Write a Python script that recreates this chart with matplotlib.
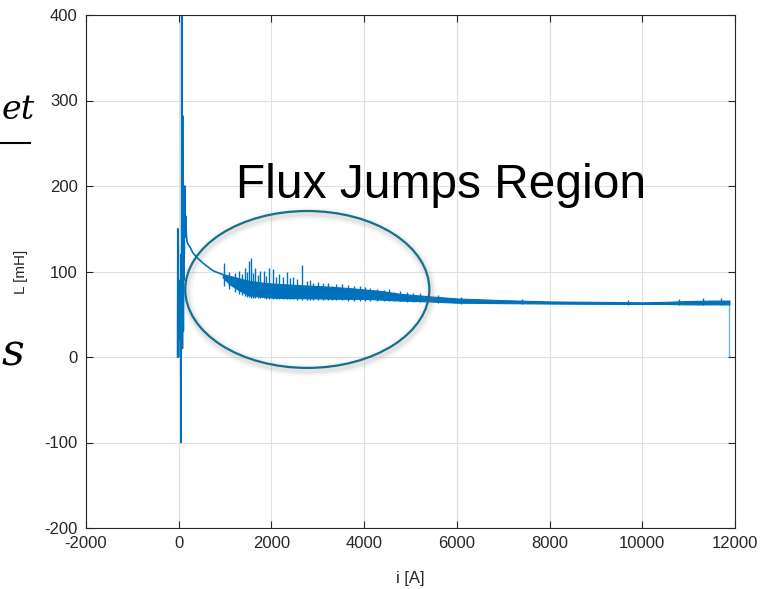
import numpy as np
import matplotlib.pyplot as plt
from matplotlib.patches import Ellipse
from matplotlib.lines import Line2D

plt.rcParams['font.family'] = ['Liberation Sans', 'DejaVu Sans']
plt.rcParams['axes.unicode_minus'] = False

trace_i = [-25, -20, -15, -10, -5, 0, 10, 20, 30, 40, 50, 55, 60, 65, 70, 75, 80, 85,
           90, 95, 100, 105, 110, 115, 120, 130, 140, 150, 160, 170, 180,
           200, 250, 303, 400, 520, 640, 737, 850, 953]
trace_L = [0, 150, 10, 130, 0, 90, 40, 75, 20, 60, -100, 120, 30, 400, 50, 240, 10, 282,
           60, 230, 30, 180, 90, 160, 120, 200, 140, 165, 150, 140, 135,
           132, 128, 122, 116, 110, 105, 101, 98.5, 96.5]

# noisy band envelope (lower / upper edge)
band_i = [950, 1100, 1300, 1530, 1800, 2000, 2300, 2615, 3000, 3330, 3700, 4000, 4400,
          4760, 5400, 6000, 7000, 8000, 9000, 10000, 10500, 11000, 11500, 11880]
band_lo = [93, 85, 78, 72, 70.5, 69.5, 69, 68.8, 68.5, 68.2, 68, 68, 67,
           66, 65, 63.5, 63, 62.5, 62.2, 62, 62, 61.5, 61.5, 61.5]
band_hi = [97, 95, 92, 89, 87, 86, 85, 84, 83, 82, 80.5, 79, 77,
           74, 71, 68.5, 66.5, 65, 64.5, 64, 64.5, 65.5, 66, 66]

# flux jump spikes (position, bottom, top)
spike_i = [969, 1080, 1207, 1300, 1370, 1423, 1470, 1510, 1567, 1600, 1647, 1700, 1748,
           1835, 1890, 1943, 2037, 2100, 2167, 2250, 2326, 2400, 2470, 2560, 2658, 2759,
           2830, 2904, 3000, 3120, 3210, 3300, 3400, 3517, 3662, 3780, 3900, 4020, 4131,
           4270, 4420, 4530, 4637, 4780, 4926, 5060, 5215, 5600, 6100, 7400, 9700,
           10800, 11300, 11700]
spike_lo = [83, 80, 76, 74, 72, 71, 70, 70, 69, 69, 69, 68.5, 68.5,
            68.5, 68, 68, 68, 68, 68, 67.5, 67.5, 67.5, 67.5, 67, 67, 67,
            67, 67, 67, 67, 66.5, 66.5, 66.5, 66.5, 66, 66, 66, 66, 66,
            65.5, 65.5, 65, 65, 65, 64.5, 64.5, 64, 63, 62.5, 61.5, 61,
            61, 60.5, 60.5]
spike_hi = [110, 99, 98.5, 101, 97, 104, 99, 112, 116, 98, 104, 96, 101,
            101, 95, 104, 103, 94, 97, 93, 99.6, 92, 93, 91, 108, 89,
            90, 87, 88, 86, 87, 83.5, 85, 85, 84.5, 83, 83.5, 82, 81,
            80, 78, 79, 76.5, 77, 76, 75, 74.5, 72, 70, 68, 67,
            68, 68.5, 69]

# end of the sweep: drop to zero
end_i = [11880, 11880, 11900]
end_L = [62, 0, 0]

blue = '#0072BD'

fig = plt.figure(figsize=(7.61, 5.89), dpi=100)
ax = fig.add_axes([86 / 761, 1 - 528 / 589, (735 - 86) / 761, (528 - 15) / 589])

ax.plot(trace_i, trace_L, color=blue, lw=1.2)
ax.fill_between(band_i, band_lo, band_hi, color=blue, lw=0.8, edgecolor=blue)
ax.vlines(spike_i, spike_lo, spike_hi, color=blue, lw=1.0)
ax.plot(end_i, end_L, color=blue, lw=1.0, alpha=0.55)

ax.set_xlim(-2000, 12000)
ax.set_ylim(-200, 400)
ax.set_xticks(np.arange(-2000, 12001, 2000))
ax.set_yticks(np.arange(-200, 401, 100))
ax.grid(True, color='#e0e0e0', lw=0.8)
ax.set_axisbelow(True)
ax.tick_params(direction='in', top=True, right=True, length=5, width=0.8,
               labelsize=12, colors='#262626', pad=6)
for sp in ax.spines.values():
    sp.set_color('#262626')
    sp.set_linewidth(0.8)

ax.set_xlabel('i [A]', fontsize=12, color='#262626', labelpad=14)
ax.set_ylabel('L [mH]', fontsize=11, color='#262626', labelpad=12)

# highlighted region
for dw, a in [(9, 0.05), (6, 0.07), (4, 0.09)]:
    ax.add_patch(Ellipse((2800, 76), 5266, 183.5, fill=False, lw=dw,
                         edgecolor='gray', alpha=a))
ax.add_patch(Ellipse((2774, 79), 5266, 183.5, fill=False, lw=1.6,
                     edgecolor='#17708a'))
ax.text(1244, 186, 'Flux Jumps Region', fontsize=34.5, color='black',
        ha='left', va='baseline')

# slide fragments around the plot
fig.text(2 / 761, 1 - 119 / 589, 'et', fontsize=24, style='italic',
         family='DejaVu Serif', ha='left', va='baseline')
fig.add_artist(Line2D([0, 30 / 761], [1 - 143 / 589] * 2, color='black', lw=1.5))
fig.text(2 / 761, 1 - 365 / 589, 's', fontsize=32, style='italic',
         family='DejaVu Serif', ha='left', va='baseline')

fig.savefig('out.png', dpi=100)
